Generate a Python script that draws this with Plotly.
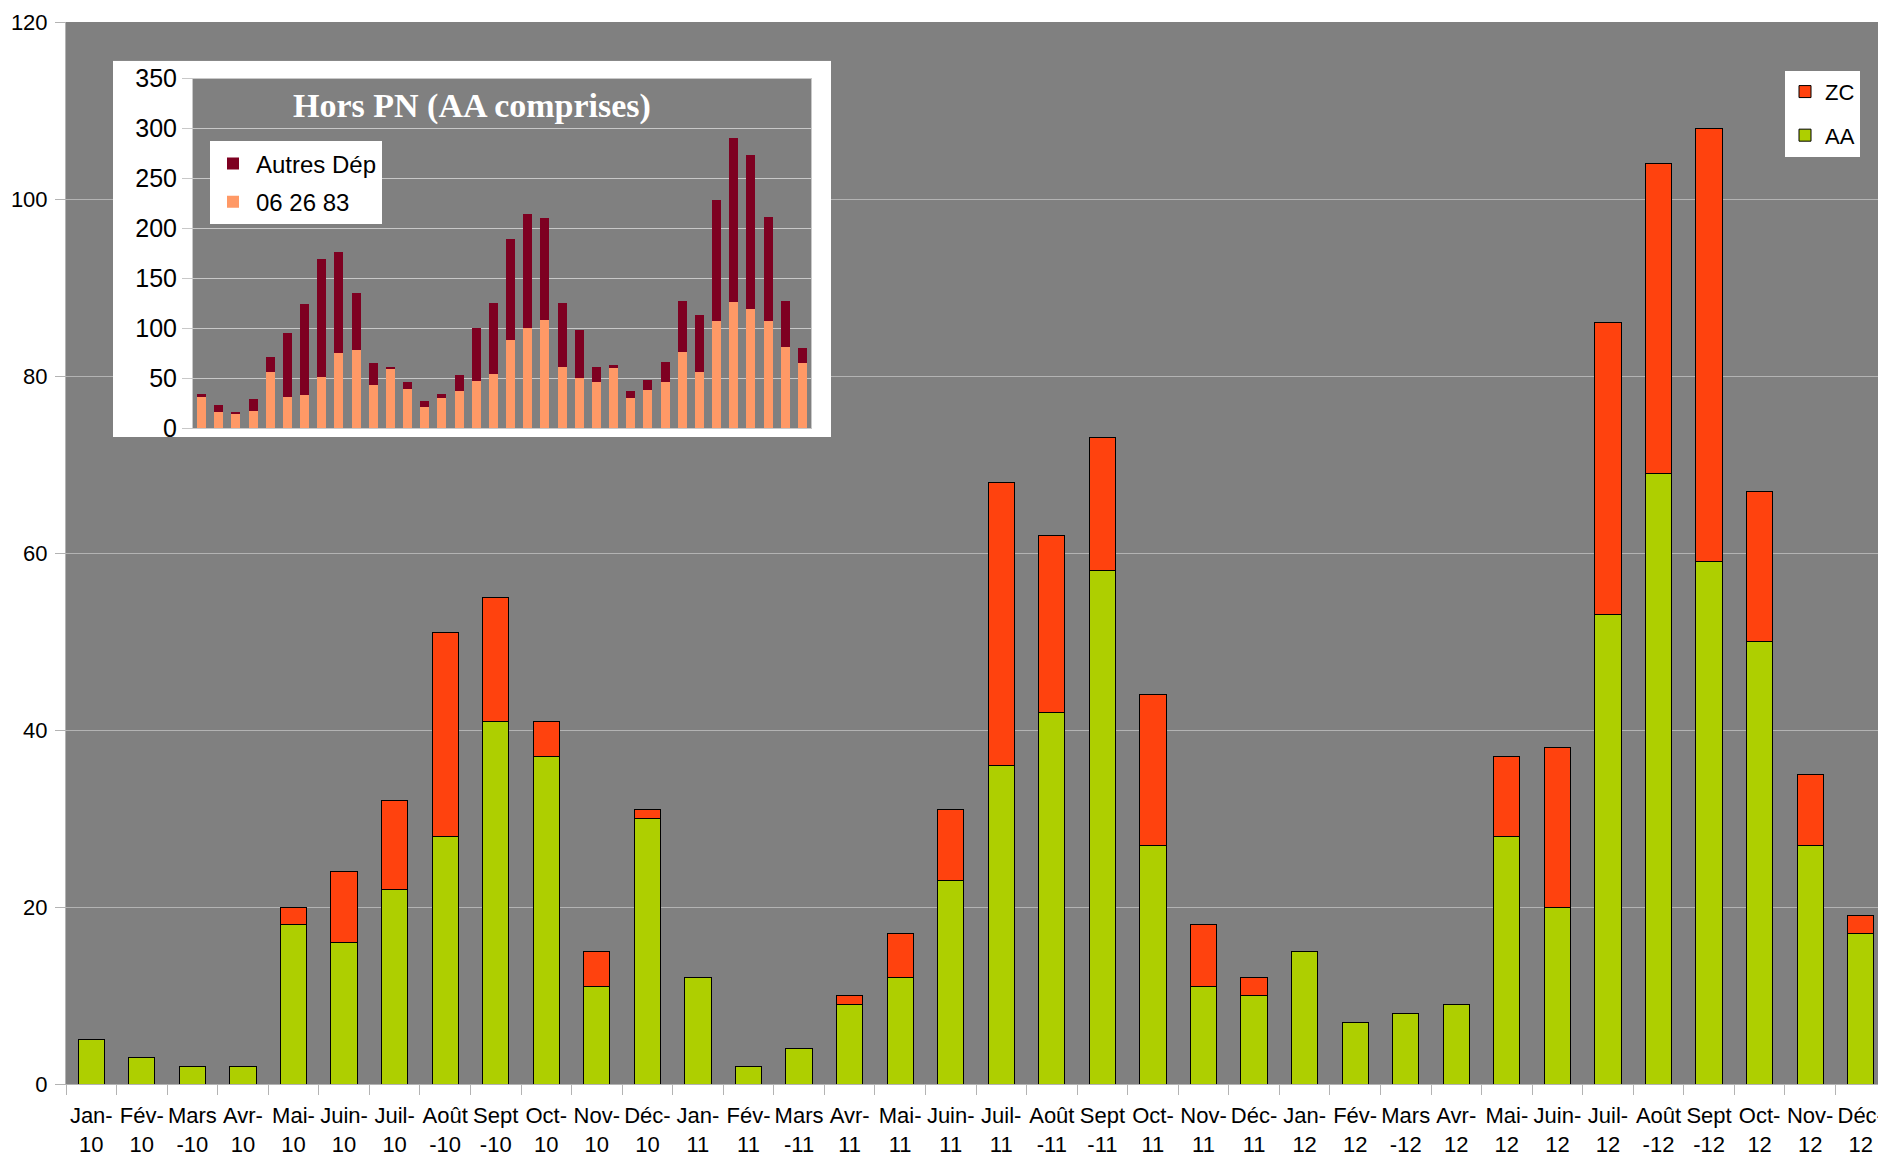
import plotly.graph_objects as go

# ---- data ----
months = ["Jan-", "Fév-", "Mars", "Avr-", "Mai-", "Juin-", "Juil-", "Août", "Sept", "Oct-", "Nov-", "Déc-"]
years = ["10", "11", "12"]
dash_first = {"Mars", "Août", "Sept"}
categories = []
for yv in years:
    for m in months:
        categories.append(m + "<br>" + ("-" + yv if m in dash_first else yv))

aa = [5, 3, 2, 2, 18, 16, 22, 28, 41, 37, 11, 30,
      12, 2, 4, 9, 12, 23, 36, 42, 58, 27, 11, 10,
      15, 7, 8, 9, 28, 20, 53, 69, 59, 50, 27, 17]
zc = [0, 0, 0, 0, 2, 8, 10, 23, 14, 4, 4, 1,
      0, 0, 0, 1, 5, 8, 32, 20, 15, 17, 7, 2,
      0, 0, 0, 0, 9, 18, 33, 35, 49, 17, 8, 2]

inset_0626 = [31, 16, 14, 17, 56, 31, 33, 51, 75, 78, 43, 60,
              39, 21, 30, 37, 47, 54, 88, 100, 108, 61, 50, 46,
              60, 30, 38, 46, 76, 56, 107, 126, 119, 107, 81, 65]
inset_autres = [3, 7, 2, 12, 15, 64, 91, 118, 101, 57, 22, 1,
                7, 6, 4, 16, 53, 71, 101, 114, 102, 64, 48, 15,
                3, 7, 10, 20, 51, 57, 122, 165, 155, 104, 46, 15]

main_ticks = [0, 20, 40, 60, 80, 100, 120]
inset_ticks = [0, 50, 100, 150, 200, 250, 300, 350]

# ---- styles ----
GREEN = "#AECF00"
RED = "#FF420E"
DARKRED = "#7E0021"
SALMON = "#FF9966"
BG = "#808080"
GRID = "#b3b3b3"
FONT = "Liberation Sans, Arial, sans-serif"

OFF = 8  # page body margin
W, H = 1886 - OFF, 1157 - OFF
ML, MR, MT, MB = 66 - OFF, 0, 19 - OFF, 71
PW, PH = W - ML - MR, H - MT - MB

def fx(px):
    return (px - OFF - ML) / PW

def fy(py):
    return 1 - (py - OFF - MT) / PH

fig = go.Figure()

# main stacked bars
fig.add_trace(go.Bar(x=categories, y=aa, name="AA", marker=dict(color=GREEN, line=dict(color="black", width=1)),
                     xaxis="x", yaxis="y", legend="legend", legendgroup="aa", legendrank=2))
fig.add_trace(go.Bar(x=categories, y=zc, name="ZC", marker=dict(color=RED, line=dict(color="black", width=1)),
                     xaxis="x", yaxis="y", legend="legend", legendgroup="zc", legendrank=1))

# white frame for inset (own subplot)
fig.add_trace(go.Scatter(x=[0, 1, 1, 0, 0], y=[0, 0, 1, 1, 0], fill="toself", fillcolor="white",
                         mode="lines", line=dict(width=0, color="white"), hoverinfo="skip",
                         showlegend=False, xaxis="x2", yaxis="y2"))

# inset stacked bars
fig.add_trace(go.Bar(x=categories, y=inset_0626, name="06 26 83", marker=dict(color=SALMON, line=dict(width=0)),
                     xaxis="x3", yaxis="y3", legend="legend2", legendgroup="a", legendrank=2))
fig.add_trace(go.Bar(x=categories, y=inset_autres, name="Autres Dép", marker=dict(color=DARKRED, line=dict(width=0)),
                     xaxis="x3", yaxis="y3", legend="legend2", legendgroup="b", legendrank=1))

fig.update_layout(
    width=W, height=H,
    margin=dict(l=ML, r=MR, t=MT, b=MB, pad=0),
    paper_bgcolor="white",
    plot_bgcolor=BG,
    barmode="stack",
    bargap=0.48,
    font=dict(family=FONT, size=22, color="black"),
    xaxis=dict(domain=[0, 1], type="category", ticks="outside", tickson="boundaries", ticklen=10,
               tickcolor=GRID, showgrid=False, showline=True, linecolor=GRID, tickangle=0,
               tickfont=dict(size=22), ticklabelstandoff=12, anchor="y"),
    yaxis=dict(domain=[0, 1], range=[0, 120], tickvals=main_ticks, ticks="outside", ticklen=10,
               tickcolor=GRID, gridcolor=GRID, gridwidth=1, showline=True, linecolor=GRID,
               zeroline=False, tickfont=dict(size=22), ticklabelstandoff=3, anchor="x"),
    xaxis2=dict(domain=[fx(113), fx(831)], range=[0, 1], visible=False, anchor="y2", fixedrange=True),
    yaxis2=dict(domain=[fy(436), fy(58)], range=[0, 1], visible=False, anchor="x2", fixedrange=True),
    xaxis3=dict(domain=[fx(193), fx(811)], type="category", showticklabels=False, ticks="",
                showgrid=False, showline=True, linecolor="#c8c8c8", mirror=True, anchor="y3"),
    yaxis3=dict(domain=[fy(427), fy(76)], range=[0, 350], tickvals=inset_ticks, ticks="outside",
                ticklen=10, tickcolor="#c8c8c8", gridcolor="#c8c8c8", showline=True, linecolor="#c8c8c8",
                mirror=True, zeroline=False, tickfont=dict(size=25), ticklabelstandoff=0, anchor="x3"),
    legend=dict(x=fx(1785), y=fy(68), xanchor="left", yanchor="top", bgcolor="white",
                borderwidth=0, font=dict(size=22), traceorder="grouped", tracegroupgap=12,
                itemwidth=30),
    legend2=dict(x=fx(210), y=fy(139), xanchor="left", yanchor="top", bgcolor="white",
                 borderwidth=0, font=dict(size=24), traceorder="grouped", tracegroupgap=4,
                 itemwidth=36),
    annotations=[dict(text="<b>Hors PN (AA comprises)</b>", x=fx(472), y=fy(103), xref="paper", yref="paper",
                      xanchor="center", yanchor="middle", showarrow=False,
                      font=dict(family="Liberation Serif, Times New Roman, serif", size=34, color="white"))],
    showlegend=True,
)

fig.write_html("out.html")
